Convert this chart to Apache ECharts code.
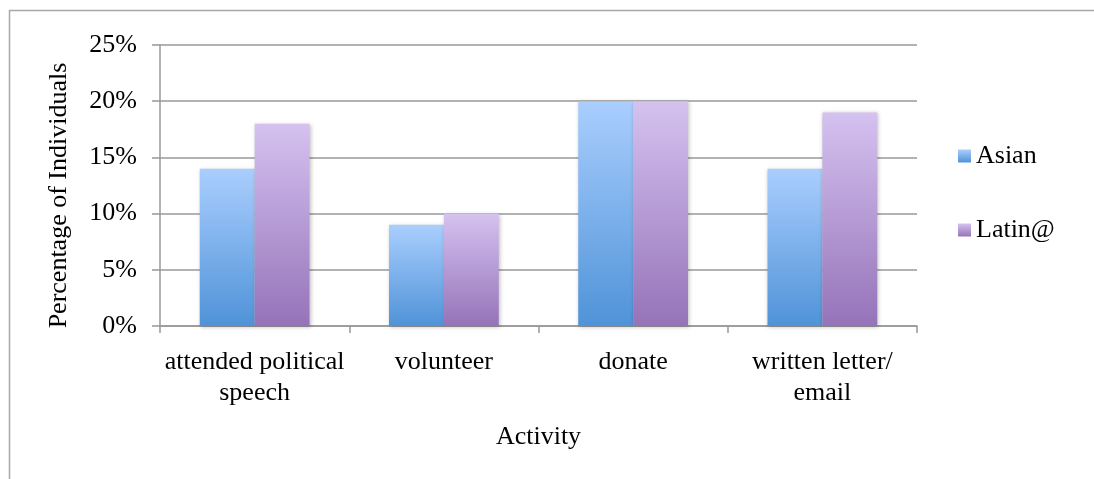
<!DOCTYPE html>
<html>
<head>
<meta charset="utf-8">
<script src="https://cdn.jsdelivr.net/npm/echarts@6/dist/echarts.min.js"></script>
<style>
html,body{margin:0;padding:0;background:#fff;}
#chart{width:1094px;height:479px;}
</style>
</head>
<body>
<div id="chart"></div>
<script>
var categories = ['attended political\nspeech', 'volunteer', 'donate', 'written letter/\nemail'];
var asian = [14, 9, 20, 14];
var latin = [18, 10, 20, 19];
var seriesNames = ['Asian', 'Latin@'];
var yTicks = [0, 5, 10, 15, 20, 25];

var FONT = "'Liberation Serif', 'Times New Roman', serif";
function grad(top, bottom) {
  return new echarts.graphic.LinearGradient(0, 0, 0, 1, [
    {offset: 0, color: top}, {offset: 1, color: bottom}
  ]);
}
var chart = echarts.init(document.getElementById('chart'), null, {renderer: 'canvas'});
var axisColor = '#989898';
chart.setOption({
  animation: false,
  backgroundColor: '#fff',
  textStyle: {fontFamily: FONT, color: '#000'},
  graphic: [{
    type: 'rect',
    shape: {x: 9.5, y: 10.5, width: 1200, height: 700},
    style: {fill: 'none', stroke: '#a8a8a8', lineWidth: 1.5},
    silent: true
  }],
  grid: {left: 160, right: 177, top: 45, bottom: 153, containLabel: false},
  legend: {
    orient: 'vertical',
    left: 958,
    top: 141,
    padding: 0,
    itemWidth: 13,
    itemHeight: 13,
    itemGap: 44,
    icon: 'rect',
    data: seriesNames,
    textStyle: {fontFamily: FONT, fontSize: 26, color: '#000', lineHeight: 30}
  },
  xAxis: {
    type: 'category',
    data: categories,
    name: 'Activity',
    nameLocation: 'middle',
    nameGap: 98,
    nameTextStyle: {fontFamily: FONT, fontSize: 26, color: '#000'},
    axisLine: {lineStyle: {color: axisColor, width: 1.5}},
    axisTick: {show: true, length: 7, lineStyle: {color: axisColor, width: 1.5}},
    axisLabel: {fontFamily: FONT, fontSize: 26, color: '#000', margin: 21, lineHeight: 31, interval: 0}
  },
  yAxis: {
    type: 'value',
    min: yTicks[0],
    max: yTicks[yTicks.length - 1],
    interval: 5,
    name: 'Percentage of Individuals',
    nameLocation: 'middle',
    nameRotate: 90,
    nameGap: 88,
    nameTextStyle: {fontFamily: FONT, fontSize: 26, color: '#000', padding: [0, 20, 0, 0]},
    axisLine: {show: true, lineStyle: {color: axisColor, width: 1.5}},
    axisTick: {show: true, length: 8, lineStyle: {color: axisColor, width: 1.5}},
    splitLine: {show: true, lineStyle: {color: axisColor, width: 1.5}},
    axisLabel: {fontFamily: FONT, fontSize: 26, color: '#000', margin: 23, formatter: '{value}%'}
  },
  series: [{
    name: seriesNames[0],
    type: 'bar',
    data: asian,
    barGap: '0%',
    barCategoryGap: '42%',
    itemStyle: {
      color: grad('#aacefe', '#4f93d8'),
      shadowColor: 'rgba(0,0,0,0.25)', shadowBlur: 4, shadowOffsetX: 1, shadowOffsetY: 1
    }
  }, {
    name: seriesNames[1],
    type: 'bar',
    data: latin,
    barGap: '0%',
    barCategoryGap: '42%',
    itemStyle: {
      color: grad('#d5c2f0', '#9573b9'),
      shadowColor: 'rgba(0,0,0,0.25)', shadowBlur: 4, shadowOffsetX: 1, shadowOffsetY: 1
    }
  }]
});
</script>
</body>
</html>
